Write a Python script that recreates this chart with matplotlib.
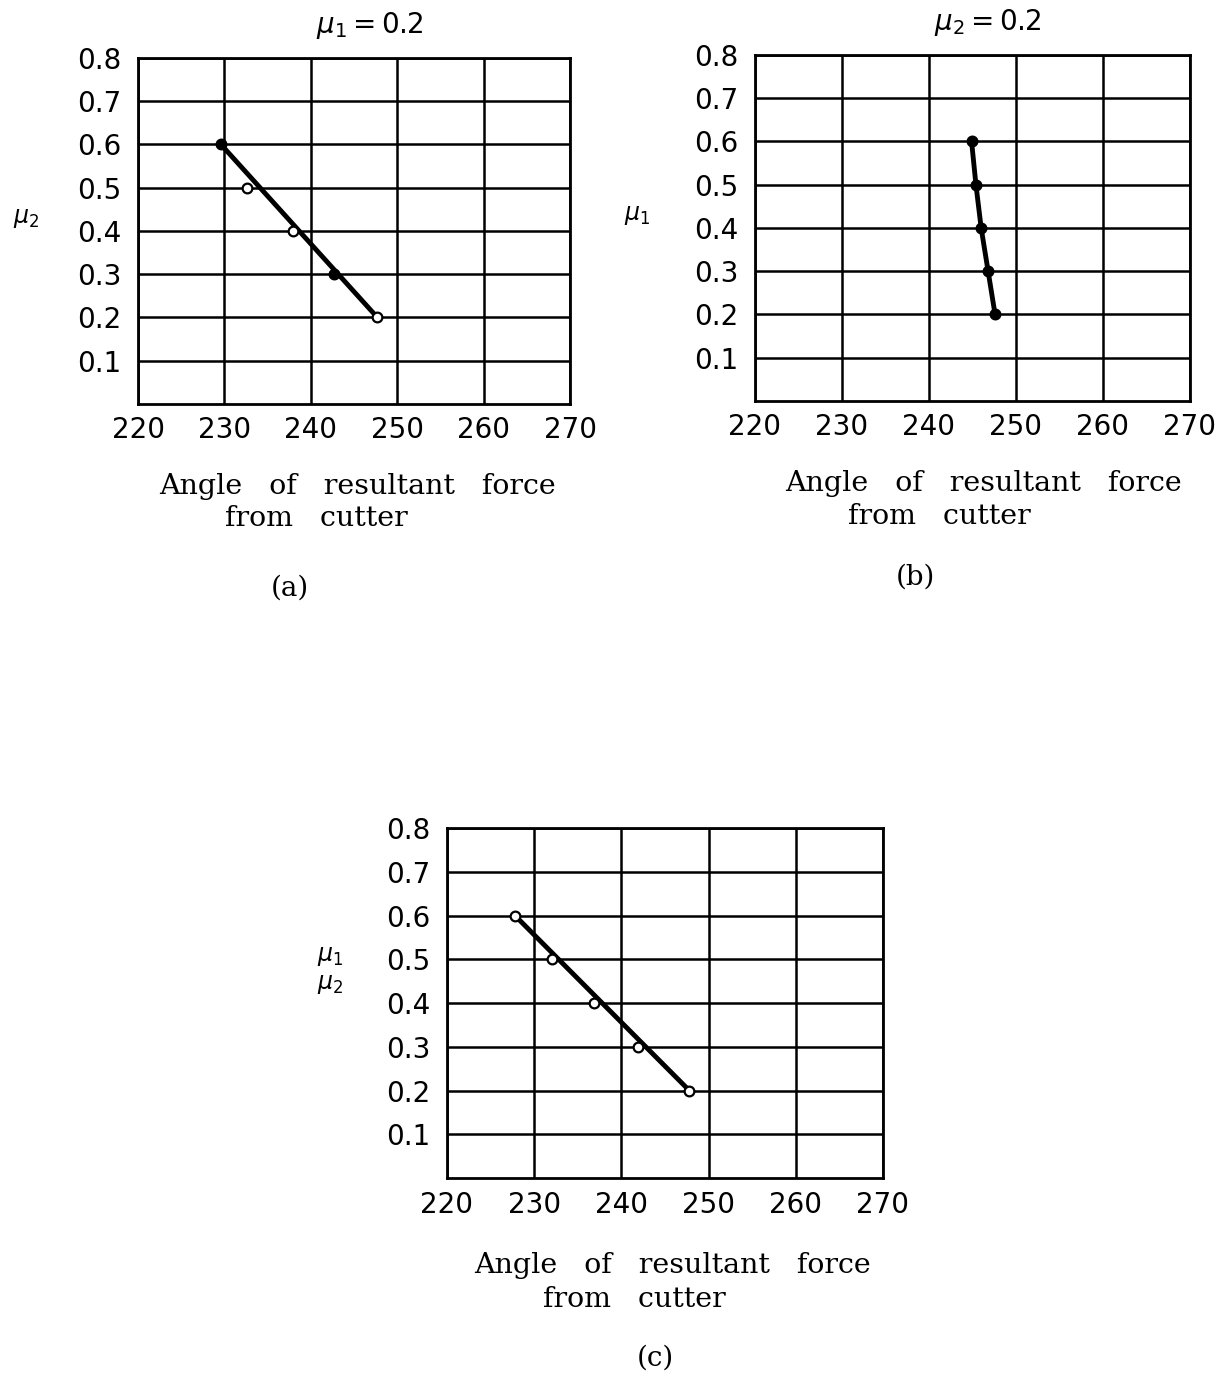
import matplotlib.pyplot as plt

# angle of resultant force (deg) vs friction coefficient
mu_levels = [0.6, 0.5, 0.4, 0.3, 0.2]
angle_a = [229.6, 232.6, 237.9, 242.7, 247.7]   # mu1 = 0.2, vary mu2
angle_b = [244.9, 245.4, 246.0, 246.8, 247.6]   # mu2 = 0.2, vary mu1
angle_c = [227.8, 232.0, 236.9, 241.9, 247.8]   # mu1 = mu2
filled_a = [True, False, False, True, False]
filled_b = [True, True, True, True, True]
filled_c = [False, False, False, False, False]

xticks = [220, 230, 240, 250, 260, 270]
yticks = [0.1, 0.2, 0.3, 0.4, 0.5, 0.6, 0.7, 0.8]

serif = 'DejaVu Serif'

fig = plt.figure(figsize=(12.28, 13.74), dpi=100)

def panel(rect, angles, filled, straight, title, ylab, ylab_pos, xl1, xl2, tag):
    ax = fig.add_axes(rect)
    ax.set_xlim(220, 270)
    ax.set_ylim(0, 0.8)
    ax.set_xticks(xticks)
    ax.set_yticks(yticks)
    ax.set_yticklabels(['%.1f' % v for v in yticks])
    ax.tick_params(length=0, labelsize=20)
    ax.tick_params(axis='y', pad=12)
    ax.tick_params(axis='x', pad=9)
    ax.grid(True, color='black', lw=1.8)
    for s in ax.spines.values():
        s.set_linewidth(2)
    if straight:
        # line drawn end to end through first and last points
        ax.plot([angles[0], angles[-1]], [mu_levels[0], mu_levels[-1]],
                color='black', lw=3.5, zorder=3)
    else:
        ax.plot(angles, mu_levels, color='black', lw=3.5, zorder=3)
    for x, y, f in zip(angles, mu_levels, filled):
        ax.plot(x, y, 'o', ms=7, mec='black', mew=1.6,
                mfc='black' if f else 'white', zorder=4, clip_on=False)
    if title:
        ax.text(0.535, 1.095, title, transform=ax.transAxes, ha='center',
                va='center', fontsize=20)
    ax.text(ylab_pos[0], ylab_pos[1], ylab, transform=ax.transAxes,
            ha='center', va='center', fontsize=17, linespacing=1.1)
    ax.text(xl1[0], xl1[1], 'Angle   of   resultant   force', transform=ax.transAxes,
            ha='center', va='center', fontsize=20.5, family=serif)
    ax.text(xl2[0], xl2[1], 'from   cutter', transform=ax.transAxes,
            ha='center', va='center', fontsize=20.5, family=serif)
    ax.text(tag[0], tag[1], tag[2], transform=ax.transAxes,
            ha='center', va='center', fontsize=20, family=serif)
    return ax

panel([0.1124, 0.706, 0.3518, 0.2518], angle_a, filled_a, True,
      r'$\mu_1 = 0.2$', r'$\mu_2$', (-0.26, 0.537),
      (0.509, -0.24), (0.412, -0.33), (0.352, -0.532, '(a)'))
panel([0.6148, 0.7082, 0.3542, 0.2518], angle_b, filled_b, False,
      r'$\mu_2 = 0.2$', r'$\mu_1$', (-0.27, 0.537),
      (0.526, -0.24), (0.425, -0.335), (0.368, -0.509, '(b)'))
panel([0.364, 0.1426, 0.355, 0.2547], angle_c, filled_c, True,
      None, '$\\mu_1$\n$\\mu_2$', (-0.268, 0.594),
      (0.518, -0.251), (0.429, -0.346), (0.477, -0.514, '(c)'))

fig.savefig('out.png', dpi=100)
